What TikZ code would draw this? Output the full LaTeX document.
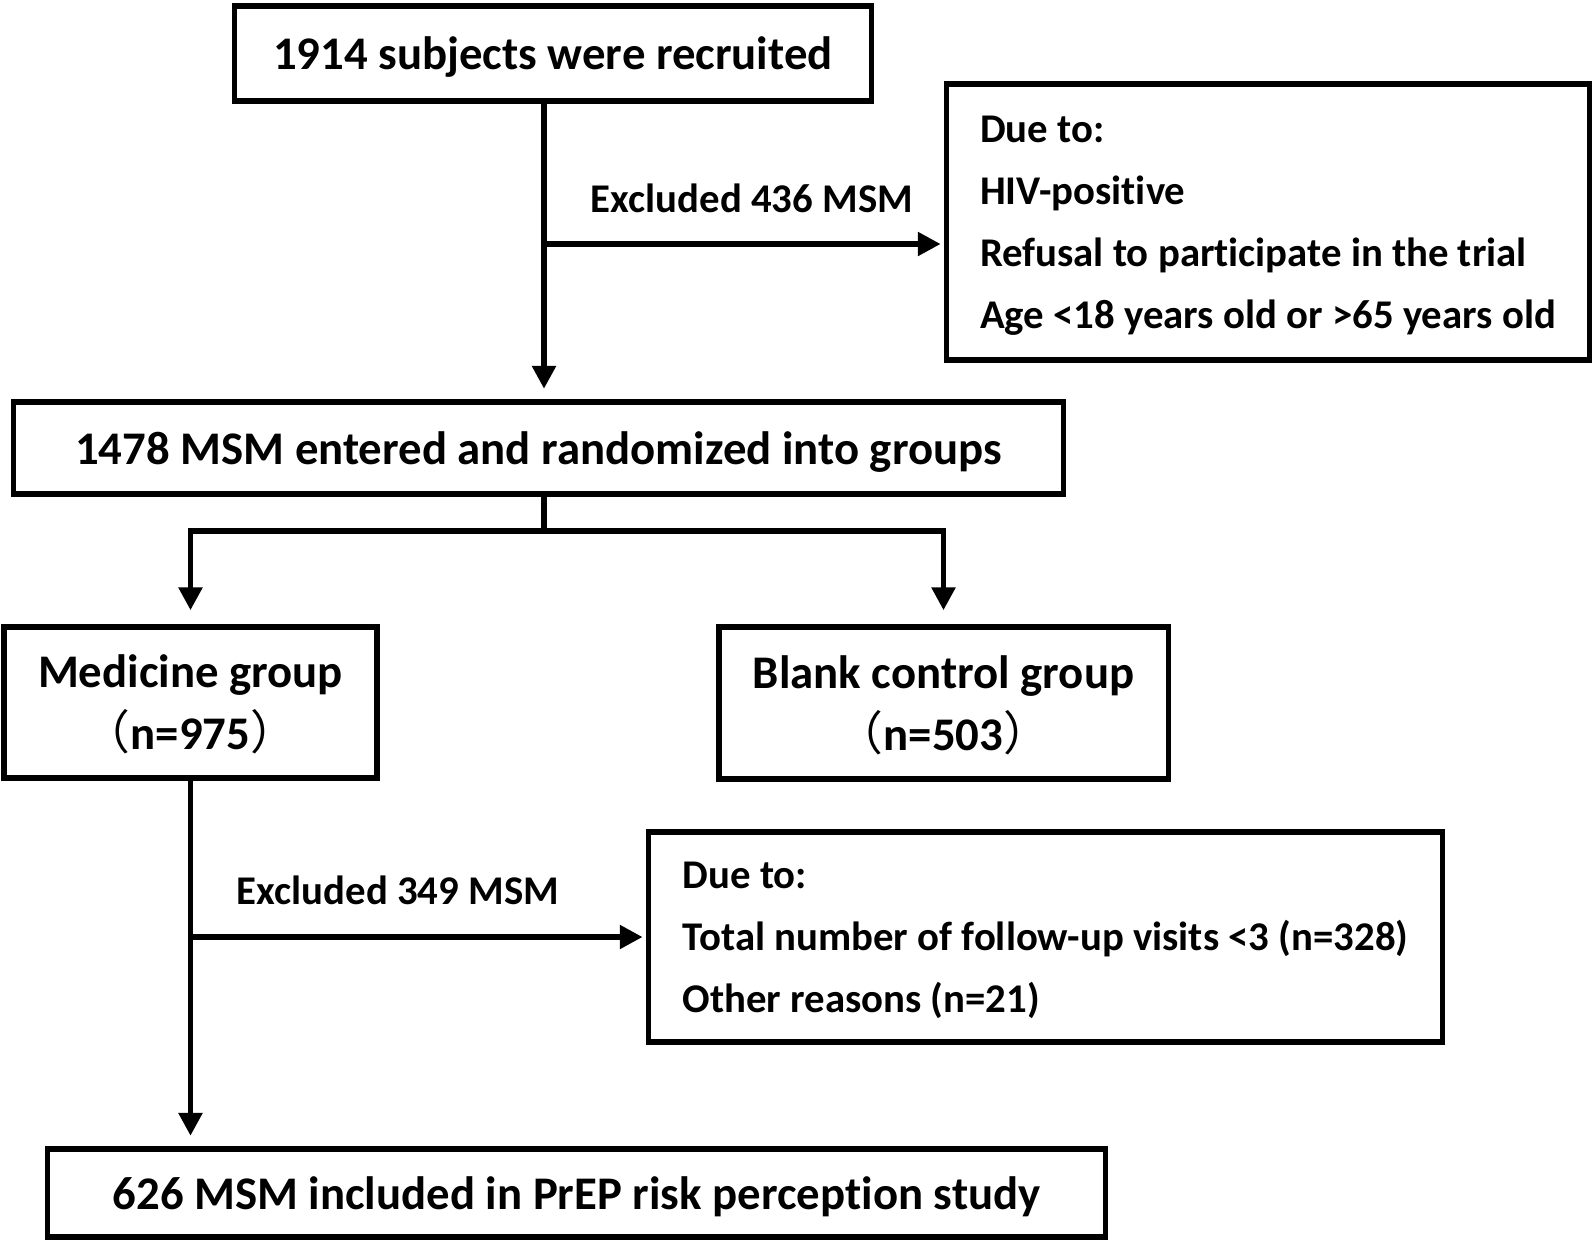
\documentclass[tikz,border=0pt]{standalone}
\usepackage{fontspec}
\setmainfont{Carlito}[Ligatures=NoCommon]
\newfontfamily\cjk{Noto Sans CJK SC}
\usetikzlibrary{arrows.meta}

\begin{document}
\begin{tikzpicture}[x=0.01cm,y=-0.01cm,
    box/.style={draw,line width=1.5pt,inner sep=0pt,align=center,text depth=0pt,
        font=\fontsize{13.3}{17.6}\selectfont\bfseries},
    reasonbox/.style={draw,line width=1.5pt,inner sep=0pt,align=left,text depth=0pt,
        font=\fontsize{11.6}{17.6}\selectfont\bfseries},
    exclabel/.style={font=\fontsize{11.6}{14}\selectfont\bfseries},
    flow/.style={line width=1.6pt},
    >={Triangle[length=6.5pt,width=6.5pt]}]
    \useasboundingbox (0,0) rectangle (1594,1242);
    % Boxes
    \node[box,minimum width=6.36cm,minimum height=0.95cm] (recruit) at (553,53.5)
        {1914 subjects were recruited};
    \node[reasonbox,minimum width=6.42cm,minimum height=2.76cm] (reason1) at (1268,222)
        {Due to:\\HIV-positive\\Refusal to participate in the trial\\Age <18 years old or >65 years old};
    \node[box,minimum width=10.49cm,minimum height=0.92cm] (entered) at (538.5,448)
        {1478 MSM entered and randomized into groups};
    \node[box,minimum width=3.73cm,minimum height=1.51cm] (medicine) at (190.5,702.5)
        {Medicine group\\{\cjk\mdseries （}n=975{\cjk\mdseries ）}};
    \node[box,minimum width=4.49cm,minimum height=1.52cm] (blank) at (943.5,703)
        {Blank control group\\{\cjk\mdseries （}n=503{\cjk\mdseries ）}};
    \node[reasonbox,minimum width=7.93cm,minimum height=2.10cm] (reason2) at (1045.5,937)
        {Due to:\\Total number of follow-up visits <3 (n=328)\\Other reasons (n=21)};
    \node[box,minimum width=10.57cm,minimum height=0.88cm] (included) at (576.5,1193)
        {626 MSM included in PrEP risk perception study};
    % Labels
    \node[exclabel] (excl1) at (752,198) {Excluded 436 MSM};
    \node[exclabel] (excl2) at (398,890) {Excluded 349 MSM};
    % Connectors
    \coordinate (fork1) at (544,244);
    \coordinate (fork2) at (544,531);
    \draw[flow,->,shorten >=3pt] (recruit.south -| fork1) -- (entered.north -| fork1);
    \draw[flow,->,shorten >=1pt] (fork1) -- (fork1 -| reason1.west);
    \draw[flow] (entered.south -| fork2) -- (fork2);
    \draw[flow,->,shorten >=4pt] (fork2) -| (medicine.north);
    \draw[flow,->,shorten >=4pt] (fork2) -| (blank.north);
    \draw[flow,->,shorten >=3pt] (medicine.south) -- (medicine.south |- included.north);
    \draw[flow,->,shorten >=1pt] (medicine.south |- reason2.west) -- (reason2.west);
\end{tikzpicture}
\end{document}
